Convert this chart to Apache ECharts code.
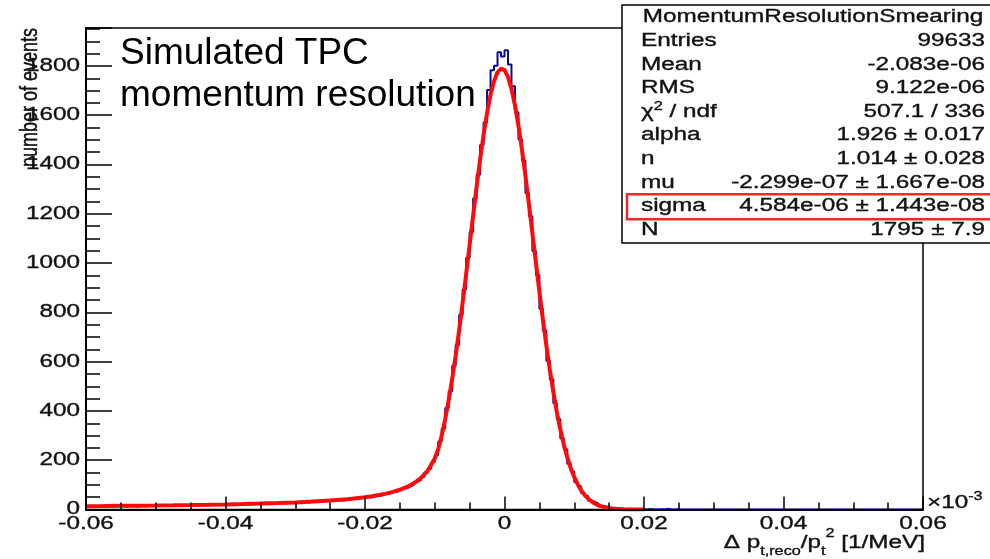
<!DOCTYPE html>
<html><head><meta charset="utf-8">
<script src="https://cdn.jsdelivr.net/npm/echarts@6/dist/echarts.min.js"></script>
<style>html,body{margin:0;padding:0;background:#fff}#c{width:990px;height:559px}</style>
</head><body><div id="c"></div>
<script>
// ---- data ----
const histStart = -0.06;
const binWidth = 0.0005;
const histCounts = [
  14, 9, 11, 13, 10, 12, 15, 11, 13, 14,
  13, 12, 16, 14, 12, 15, 13, 14, 17, 13,
  16, 14, 15, 17, 15, 14, 18, 16, 15, 19,
  17, 15, 19, 18, 16, 20, 17, 18, 21, 17,
  19, 22, 18, 21, 20, 23, 20, 22, 24, 21,
  22, 25, 23, 26, 22, 27, 24, 26, 28, 25,
  29, 27, 30, 28, 31, 30, 33, 32, 35, 33,
  37, 34, 38, 36, 41, 41, 45, 44, 48, 47,
  53, 49, 56, 55, 58, 64, 63, 71, 72, 77,
  85, 86, 93, 100, 112, 118, 132, 150, 165, 192,
  221, 276, 329, 412, 480, 583, 668, 790, 893, 1022,
  1126, 1262, 1358, 1479, 1570, 1702, 1783, 1801, 1856, 1838,
  1864, 1806, 1718, 1612, 1503, 1416, 1284, 1190, 1049, 952,
  815, 726, 604, 529, 431, 367, 289, 244, 186, 154,
  112, 94, 66, 55, 36, 31, 23, 12, 13, 8,
  6, 3, 4, 2, 1, 3, 2, 0, 1, 1,
  0, 2, 0, 0, 1, 0, 3, 0, 0, 1,
  0, 0, 0, 0, 0, 0, 0, 0, 0, 0,
  0, 0, 0, 0, 0, 0, 0, 0, 0, 0,
  0, 0, 0, 0, 0, 0, 0, 0, 0, 0,
  0, 0, 0, 0, 0, 0, 0, 0, 0, 0,
  0, 0, 0, 0, 0, 0, 0, 0, 0, 0,
  0, 0, 0, 0, 0, 0, 0, 0, 0, 0,
  0, 0, 0, 0, 0, 0, 0, 0, 0, 0
];
const fitX = [
  -0.06, -0.0575, -0.055, -0.0525, -0.05, -0.0475, -0.045, -0.0425, -0.04, -0.0375,
  -0.035, -0.0325, -0.03, -0.0275, -0.025, -0.0225, -0.02, -0.019, -0.018, -0.017,
  -0.016, -0.015, -0.014, -0.013, -0.012, -0.011, -0.010, -0.0095, -0.009, -0.0085,
  -0.008, -0.0075, -0.007, -0.0065, -0.006, -0.0055, -0.005, -0.0045, -0.004, -0.0035,
  -0.003, -0.0025, -0.002, -0.0015, -0.001, -0.0005, 0, 0.0005, 0.001, 0.0015,
  0.002, 0.0025, 0.003, 0.0035, 0.004, 0.0045, 0.005, 0.0055, 0.006, 0.0065,
  0.007, 0.0075, 0.008, 0.0085, 0.009, 0.0095, 0.01, 0.0105, 0.011, 0.0115,
  0.012, 0.0125, 0.013, 0.0135, 0.014, 0.0145, 0.015, 0.0155, 0.016, 0.017,
  0.018, 0.019, 0.02
];
const fitY = [
  13.5, 14.1, 14.8, 15.5, 16.3, 17.2, 18.2, 19.4, 20.7, 22.2,
  24.0, 26.2, 28.9, 32.2, 36.5, 42.0, 49.8, 53.8, 58.6, 64.3,
  71.3, 80.2, 91.4, 106.3, 126.9, 157.3, 206.8, 245.2, 300.0, 367.0,
  443.6, 529.9, 625.1, 728.7, 839.3, 955.1, 1073.8, 1192.7, 1308.8, 1419.3,
  1520.4, 1609.2, 1682.8, 1738.4, 1774.4, 1789.6, 1783.0, 1755.3, 1707.3, 1640.5,
  1557.5, 1461.0, 1354.0, 1239.8, 1121.4, 1002.4, 885.0, 772.2, 665.5, 566.9,
  477.0, 396.5, 325.6, 264.2, 211.9, 167.9, 131.4, 101.6, 77.6, 58.6,
  43.7, 32.2, 23.4, 16.8, 12.0, 8.4, 5.8, 4.0, 2.7, 1.2,
  0.5, 0.2, 0.1
];
const xTicks = [-0.06, -0.04, -0.02, 0, 0.02, 0.04, 0.06];
const xTickLabels = ['-0.06', '-0.04', '-0.02', '0', '0.02', '0.04', '0.06'];
const yTicks = [0, 200, 400, 600, 800, 1000, 1200, 1400, 1600, 1800];
const statsTitle = 'MomentumResolutionSmearing';
const statsLabels = ['Entries', 'Mean', 'RMS', '{a|χ}{s|2}{a| / ndf}', 'alpha', 'n', 'mu', 'sigma', 'N'];
const statsValues = ['99633', '-2.083e-06', '9.122e-06', '507.1 / 336', '1.926 ± 0.017', '1.014 ± 0.028',
  '-2.299e-07 ± 1.667e-08', '4.584e-06 ± 1.443e-08', '1795 ± 7.9'];
const highlightRow = 7;

// ---- chart ----
const FONT = '"Liberation Sans", Arial, sans-serif';
const SX = 1.35;
const FS = 18;
const TXT = '#111';
const chart = echarts.init(document.getElementById('c'), null, {renderer: 'canvas'});
const histData = histCounts.map((c, i) => [histStart + i * binWidth, c]);
histData.push([histStart + histCounts.length * binWidth, histCounts[histCounts.length - 1]]);
const fitData = fitX.map((x, i) => [x, fitY[i]]);

chart.setOption({
  animation: false,
  backgroundColor: '#fff',
  grid: {left: 86, right: 67, top: 28, bottom: 49.5, show: true, borderColor: '#000', borderWidth: 1.5, backgroundColor: 'transparent'},
  xAxis: {
    type: 'value', min: -0.06, max: 0.06, interval: 0.02, z: 10,
    axisLine: {show: true, onZero: false, lineStyle: {color: '#000', width: 2}},
    axisTick: {show: true, inside: true, length: 13, lineStyle: {color: '#000', width: 1.5}},
    minorTick: {show: true, splitNumber: 4, length: 7, lineStyle: {color: '#000', width: 1.5}},
    axisLabel: {show: false}, splitLine: {show: false}
  },
  yAxis: {
    type: 'value', min: 0, max: 1954, interval: 200, z: 10,
    axisLine: {show: true, onZero: false, lineStyle: {color: '#000', width: 2}},
    axisTick: {show: true, inside: true, length: 26, lineStyle: {color: '#000', width: 1.5}},
    minorTick: {show: true, splitNumber: 4, length: 14, lineStyle: {color: '#000', width: 1.5}},
    axisLabel: {show: false}, splitLine: {show: false}
  },
  series: [
    {type: 'line', data: histData, step: 'end', showSymbol: false, z: 3,
     lineStyle: {color: '#0a0a9a', width: 2}},
    {type: 'line', data: fitData, showSymbol: false, smooth: false, z: 4,
     lineStyle: {color: '#ff0a0a', width: 4}}
  ]
});

// ---- texts ----
function txt(extra, style) {
  return Object.assign({type: 'text', z: 21}, extra, {
    style: Object.assign({fontSize: FS, fontFamily: FONT, fill: TXT, stroke: TXT, lineWidth: 0.35}, style)
  });
}
const g = [];
xTicks.forEach((v, i) => {
  const p = chart.convertToPixel({gridIndex: 0}, [v, 0]);
  g.push(txt({x: p[0], y: p[1] + 15, scaleX: SX},
    {text: xTickLabels[i], align: 'center', textAlign: 'center', verticalAlign: 'middle', textVerticalAlign: 'middle'}));
});
yTicks.forEach((v) => {
  const p = chart.convertToPixel({gridIndex: 0}, [-0.06, v]);
  g.push(txt({x: p[0] - 6, y: p[1], scaleX: SX},
    {text: String(v), align: 'right', textAlign: 'right', verticalAlign: 'middle', textVerticalAlign: 'middle'}));
});
// y title
g.push(txt({x: 30, y: 28, rotation: Math.PI / 2, scaleY: 1.35},
  {text: 'number of events', fontSize: 18, align: 'right', textAlign: 'right', verticalAlign: 'middle', textVerticalAlign: 'middle'}));
// x title
g.push(txt({x: 925, y: 543, scaleX: SX},
  {text: '{m|Δ p}{sub|t,reco}{m|/p}{sub|t}{sup|2}{m| [1/MeV]}',
    align: 'right', textAlign: 'right', verticalAlign: 'middle', textVerticalAlign: 'middle',
    rich: {
      m: {fontSize: FS, fontFamily: FONT, lineHeight: 30, verticalAlign: 'middle'},
      sub: {fontSize: 12, fontFamily: FONT, lineHeight: 10, verticalAlign: 'bottom'},
      sup: {fontSize: 12, fontFamily: FONT, lineHeight: 14, verticalAlign: 'top'}
    }}));
// x10^-3
g.push(txt({x: 927, y: 503, scaleX: SX},
  {text: '{m|×10}{sup|-3}', align: 'left', textAlign: 'left', verticalAlign: 'middle', textVerticalAlign: 'middle',
    rich: {
      m: {fontSize: FS, fontFamily: FONT, lineHeight: 24, verticalAlign: 'middle'},
      sup: {fontSize: 12, fontFamily: FONT, lineHeight: 12, verticalAlign: 'top'}
    }}));
// annotation
g.push({type: 'text', x: 120, y: 72, z: 21,
  style: {text: 'Simulated TPC', fontSize: 37, fontFamily: FONT, fill: '#000',
    align: 'left', textAlign: 'left', verticalAlign: 'bottom', textVerticalAlign: 'bottom'}});
g.push({type: 'text', x: 120, y: 114, z: 21,
  style: {text: 'momentum resolution', fontSize: 37, fontFamily: FONT, fill: '#000',
    align: 'left', textAlign: 'left', verticalAlign: 'bottom', textVerticalAlign: 'bottom'}});
// stats box
g.push({type: 'rect', z: 30, shape: {x: 622, y: 5, width: 380, height: 238},
  style: {fill: '#fff', stroke: '#000', lineWidth: 1.5}});
g.push(Object.assign(txt({x: 813, y: 17, scaleX: SX},
  {text: statsTitle, align: 'center', textAlign: 'center', verticalAlign: 'middle', textVerticalAlign: 'middle'}), {z: 31}));
const rowY0 = 41, rowStep = 23.6;
statsLabels.forEach((lab, i) => {
  const y = rowY0 + i * rowStep;
  g.push(Object.assign(txt({x: 641, y: y, scaleX: SX},
    {text: lab, align: 'left', textAlign: 'left', verticalAlign: 'middle', textVerticalAlign: 'middle',
      rich: {a: {fontSize: FS, fontFamily: FONT, lineHeight: 22, verticalAlign: 'middle'},
             s: {fontSize: 12, fontFamily: FONT, lineHeight: 12, verticalAlign: 'top'}}}), {z: 31}));
  g.push(Object.assign(txt({x: 985, y: y, scaleX: SX},
    {text: statsValues[i], align: 'right', textAlign: 'right', verticalAlign: 'middle', textVerticalAlign: 'middle'}), {z: 31}));
});
g.push({type: 'rect', z: 32, shape: {x: 627, y: rowY0 + highlightRow * rowStep - 12, width: 370, height: 25},
  style: {fill: 'none', stroke: '#ee2a2a', lineWidth: 2.5}});

chart.setOption({graphic: {elements: g}});
</script>
</body></html>
